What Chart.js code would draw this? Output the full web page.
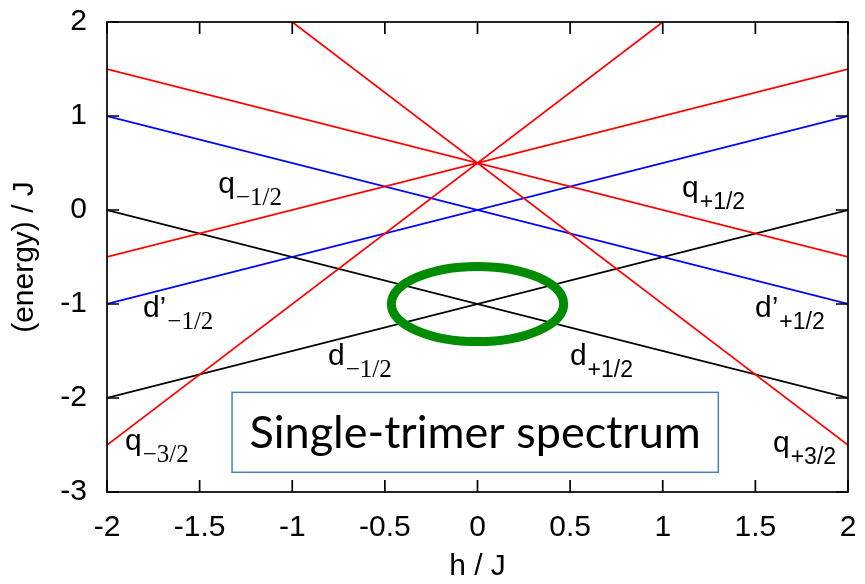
<!DOCTYPE html>
<html>
<head>
<meta charset="utf-8">
<script src="https://cdn.jsdelivr.net/npm/chart.js@4/dist/chart.umd.min.js"></script>
<style>
  html, body { margin: 0; padding: 0; background: #ffffff; }
  #wrap { width: 865px; height: 584px; }
</style>
</head>
<body>
<div id="wrap"><canvas id="c" width="865" height="584"></canvas></div>
<script>
// Tick labels
const hTicks = [-2, -1.5, -1, -0.5, 0, 0.5, 1, 1.5, 2];
const eTicks = [-3, -2, -1, 0, 1, 2];

// Quartet levels (end points h, energy)
const qPlus32H = [-1, 2];   const qPlus32E = [2, -2.5];
const qMinus32H = [-2, 1];  const qMinus32E = [-2.5, 2];
const qPlus12H = [-2, 2];   const qPlus12E = [1.5, -0.5];
const qMinus12H = [-2, 2];  const qMinus12E = [-0.5, 1.5];
// Doublet levels d'
const dpPlus12H = [-2, 2];  const dpPlus12E = [1, -1];
const dpMinus12H = [-2, 2]; const dpMinus12E = [-1, 1];
// Doublet levels d
const dPlus12H = [-2, 2];   const dPlus12E = [0, -2];
const dMinus12H = [-2, 2];  const dMinus12E = [-2, 0];

const RED = '#ff0000', BLUE = '#0000ff', BLACK = '#000000';

function pts(hs, es) { return hs.map((h, i) => ({ x: h, y: es[i] })); }
function line(hs, es, color) {
  return { data: pts(hs, es), borderColor: color, borderWidth: 1.7, showLine: true,
           pointRadius: 0, fill: false, tension: 0 };
}

// Level labels: main letter, subscript, subscript font, anchor in (h, energy)
const levelLabels = [
  { main: 'q',  sub: '\u22121/2', serif: true,  h: -1.40,  e: 0.18 },
  { main: 'q',  sub: '+1/2',      serif: false, h: 1.104,  e: 0.14 },
  { main: 'd\u2019', sub: '\u22121/2', serif: true,  h: -1.806, e: -1.14 },
  { main: 'd\u2019', sub: '+1/2',      serif: false, h: 1.498,  e: -1.14 },
  { main: 'd',  sub: '\u22121/2', serif: true,  h: -0.807, e: -1.65 },
  { main: 'd',  sub: '+1/2',      serif: false, h: 0.499,  e: -1.65 },
  { main: 'q',  sub: '\u22123/2', serif: true,  h: -1.903, e: -2.55 },
  { main: 'q',  sub: '+3/2',      serif: false, h: 1.595,  e: -2.57 }
];

const SANS = '"Liberation Sans", Arial, Helvetica, sans-serif';
const SERIF = '"Liberation Serif", "Times New Roman", serif';

const decorations = {
  id: 'decorations',
  afterDatasetsDraw(chart) {
    const { ctx, chartArea: a, scales: { x, y } } = chart;
    ctx.save();

    // green ring around the d crossing at h = 0
    ctx.beginPath();
    const cx = x.getPixelForValue(0), cy = y.getPixelForValue(-1);
    const rx = x.getPixelForValue(0.465) - cx, ry = cy - y.getPixelForValue(-0.6);
    ctx.ellipse(cx, cy, rx, ry, 0, 0, Math.PI * 2);
    ctx.lineWidth = 9;
    ctx.strokeStyle = '#008c00';
    ctx.stroke();

    // level labels with subscripts
    ctx.fillStyle = '#000';
    ctx.textBaseline = 'alphabetic';
    ctx.textAlign = 'left';
    levelLabels.forEach(l => {
      const px = x.getPixelForValue(l.h), py = y.getPixelForValue(l.e);
      ctx.font = '30px ' + SANS;
      ctx.fillText(l.main, px, py);
      const w = ctx.measureText(l.main).width;
      ctx.font = (l.serif ? '25px ' + SERIF : '23px ' + SANS);
      ctx.fillText(l.sub, px + w + 1, py + 12);
    });

    // caption box
    const bx0 = x.getPixelForValue(-1.325), bx1 = x.getPixelForValue(1.30);
    const by0 = y.getPixelForValue(-1.94), by1 = y.getPixelForValue(-2.79);
    ctx.fillStyle = '#ffffff';
    ctx.fillRect(bx0, by0, bx1 - bx0, by1 - by0);
    ctx.lineWidth = 1.5;
    ctx.strokeStyle = '#4a7ebb';
    ctx.strokeRect(bx0, by0, bx1 - bx0, by1 - by0);
    ctx.fillStyle = '#000';
    ctx.font = '45px Lato, "Open Sans", sans-serif';
    ctx.textAlign = 'center';
    ctx.textBaseline = 'middle';
    ctx.fillText('Single-trimer spectrum', (bx0 + bx1) / 2, (by0 + by1) / 2 + 1);

    // frame and inward ticks on all four sides
    ctx.strokeStyle = '#000';
    ctx.lineWidth = 1.7;
    ctx.strokeRect(a.left, a.top, a.right - a.left, a.bottom - a.top);
    const tl = 12;
    ctx.beginPath();
    hTicks.forEach(v => {
      const p = x.getPixelForValue(v);
      ctx.moveTo(p, a.bottom); ctx.lineTo(p, a.bottom - tl);
      ctx.moveTo(p, a.top); ctx.lineTo(p, a.top + tl);
    });
    eTicks.forEach(v => {
      const p = y.getPixelForValue(v);
      ctx.moveTo(a.left, p); ctx.lineTo(a.left + tl, p);
      ctx.moveTo(a.right, p); ctx.lineTo(a.right - tl, p);
    });
    ctx.stroke();

    // axis titles
    ctx.fillStyle = '#000';
    ctx.font = '30px ' + SANS;
    ctx.textAlign = 'center';
    ctx.textBaseline = 'middle';
    ctx.fillText('h / J', (a.left + a.right) / 2, 567);
    ctx.translate(25, (a.top + a.bottom) / 2);
    ctx.rotate(-Math.PI / 2);
    ctx.fillText('(energy) / J', 0, 0);
    ctx.restore();
  }
};

new Chart(document.getElementById('c'), {
  type: 'scatter',
  data: {
    datasets: [
      line(qPlus32H, qPlus32E, RED),
      line(qMinus32H, qMinus32E, RED),
      line(qPlus12H, qPlus12E, RED),
      line(qMinus12H, qMinus12E, RED),
      line(dpPlus12H, dpPlus12E, BLUE),
      line(dpMinus12H, dpMinus12E, BLUE),
      line(dPlus12H, dPlus12E, BLACK),
      line(dMinus12H, dMinus12E, BLACK)
    ]
  },
  options: {
    responsive: false,
    animation: false,
    layout: { padding: { top: 22, right: 17, left: 0, bottom: 0 } },
    plugins: { legend: { display: false }, tooltip: { enabled: false } },
    scales: {
      x: {
        type: 'linear', min: -2, max: 2,
        afterBuildTicks: s => { s.ticks = hTicks.map(v => ({ value: v })); },
        afterFit: s => { s.height = 92; s.paddingLeft = 0; s.paddingRight = 0; },
        grid: { display: false, drawTicks: false },
        border: { display: false },
        ticks: { color: '#000', padding: 18, font: { family: SANS, size: 30 },
                 callback: v => String(v), maxRotation: 0, autoSkip: false }
      },
      y: {
        type: 'linear', min: -3, max: 2,
        afterBuildTicks: s => { s.ticks = eTicks.map(v => ({ value: v })); },
        afterFit: s => { s.width = 107; s.paddingTop = 0; s.paddingBottom = 0; },
        grid: { display: false, drawTicks: false },
        border: { display: false },
        ticks: { color: '#000', padding: 20, font: { family: SANS, size: 30 },
                 callback: v => String(v), autoSkip: false }
      }
    }
  },
  plugins: [decorations]
});
</script>
</body>
</html>
